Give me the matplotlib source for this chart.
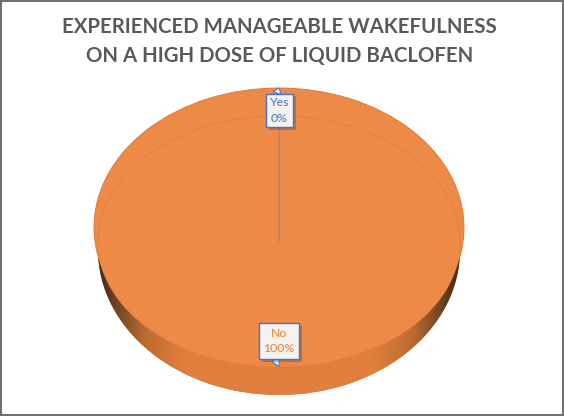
import numpy as np
import matplotlib
matplotlib.use("Agg")
import matplotlib.pyplot as plt
import matplotlib.patheffects as pe
from matplotlib.colors import LinearSegmentedColormap
from matplotlib.patches import Rectangle

categories = ["Yes", "No"]
values = [0, 100]
title = "EXPERIENCED MANAGEABLE WAKEFULNESS\nON A HIGH DOSE OF LIQUID BACLOFEN"

W, H = 564, 416
plt.rcParams["font.family"] = ["Lato", "DejaVu Sans"]
fig = plt.figure(figsize=(W / 100, H / 100), dpi=100, facecolor="white")


def ellipse_axes(cx, cy, a, b):
    ax = fig.add_axes([(cx - a - 2) / W, 1 - (cy + b + 2) / H, (2 * a + 4) / W, (2 * b + 4) / H])
    return ax


def pie_layer(cx, cy, a, b, colors, edge, lw):
    ax = ellipse_axes(cx, cy, a, b)
    wedges, _ = ax.pie(values, colors=colors, startangle=90, counterclock=False,
                       wedgeprops=dict(edgecolor=edge, linewidth=lw))
    ax.set_aspect("auto")
    ax.set_xlim(-1 - 2 / a, 1 + 2 / a)
    ax.set_ylim(-1 - 2 / b, 1 + 2 / b)
    ax.patch.set_visible(False)
    return ax, wedges


# side wall of the disc
side_ax, side_w = pie_layer(279, 250, 181, 145, ["#E0793A", "#E0793A"], "none", 0)
cmap = LinearSegmentedColormap.from_list(
    "wall",
    [(0, "#3f2a18"), (0.05, "#6e4423"), (0.13, "#bd6c30"), (0.24, "#e07f3e"),
     (0.76, "#e07f3e"), (0.87, "#bd6c30"), (0.95, "#6e4423"), (1, "#3f2a18")])
grad = side_ax.imshow(np.linspace(0, 1, 256)[None, :], extent=(-1, 1, -1, 1),
                      aspect="auto", cmap=cmap, zorder=3)
grad.set_clip_path(side_w[1])
side_ax.set_xlim(-1 - 2 / 181, 1 + 2 / 181)
side_ax.set_ylim(-1 - 2 / 145, 1 + 2 / 145)

# top bevel rim, then the pie face
pie_layer(279, 227.5, 185, 139.5, ["#ED8A47", "#ED8A47"], "#DE7530", 0.6)
face_ax, face_w = pie_layer(279, 241.5, 181, 125.5, ["#8a7f78", "#ED8A47"], "#E6803C", 0.6)
face_w[0].set_edgecolor("#9A7C68")
face_w[0].set_linewidth(0.6)
face_w[0].set_zorder(5)

# full-figure overlay in pixel coordinates for text and callouts
ov = fig.add_axes([0, 0, 1, 1])
ov.set_xlim(0, W)
ov.set_ylim(H, 0)
ov.axis("off")
ov.add_patch(Rectangle((0.5, 0.5), W - 1.5, H - 2, fill=False, ec="#6b6b6b", lw=1.4))
ov.text(279.5, 41.5, title, ha="center", va="center", fontsize=14.7, fontweight="bold",
        color="#595959", linespacing=1.55)

total = sum(values)
label_spec = [(279.5, 110.5, 279, 88, "#4472C4", 0.3, (0.3, 1.0)),
              (279, 341, 279, 366.5, "#ED7D31", 0.38, (0.3, 0.0))]
for cat, val, (x, y, tx, ty, col, pad, rel) in zip(categories, values, label_spec):
    ann = ov.annotate(
        f"{cat}\n{val / total:.0%}", xy=(tx, ty), xytext=(x, y), ha="center", va="center",
        fontsize=8.8, color=col, linespacing=1.5,
        bbox=dict(boxstyle=f"square,pad={pad}", fc="#F5F1EE", ec="#4472C4", lw=1.0),
        arrowprops=dict(arrowstyle="wedge,tail_width=0.7,shrink_factor=0.5", fc="#F5F1EE",
                        ec="#4472C4", lw=0.7, shrinkA=0, shrinkB=0, relpos=rel))
    ann.get_bbox_patch().set_path_effects(
        [pe.SimplePatchShadow(offset=(2, -2), shadow_rgbFace="#5b5b5b", alpha=0.45), pe.Normal()])

fig.savefig("out.png", dpi=100)
